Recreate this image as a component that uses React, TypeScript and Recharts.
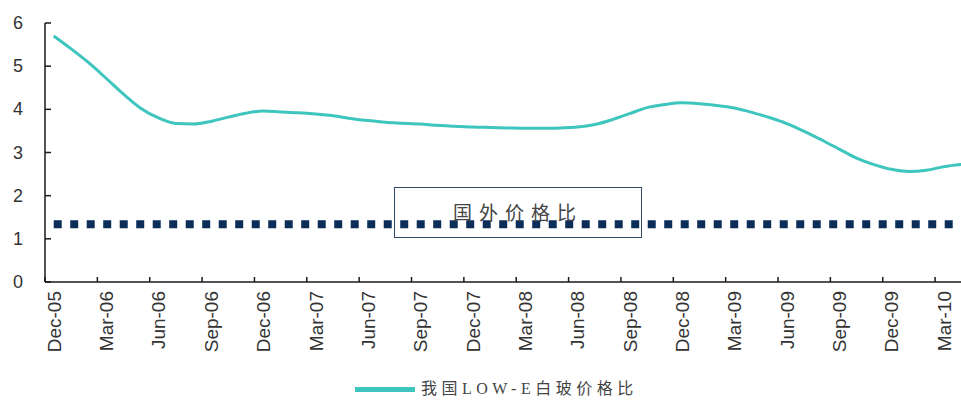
import { Line, LineChart, ReferenceLine, XAxis, YAxis } from "recharts";

const MONTHS = [
  "Dec-05", "Jan-06", "Feb-06", "Mar-06", "Apr-06", "May-06", "Jun-06", "Jul-06", "Aug-06", "Sep-06", "Oct-06", "Nov-06",
  "Dec-06", "Jan-07", "Feb-07", "Mar-07", "Apr-07", "May-07", "Jun-07", "Jul-07", "Aug-07", "Sep-07", "Oct-07", "Nov-07",
  "Dec-07", "Jan-08", "Feb-08", "Mar-08", "Apr-08", "May-08", "Jun-08", "Jul-08", "Aug-08", "Sep-08", "Oct-08", "Nov-08",
  "Dec-08", "Jan-09", "Feb-09", "Mar-09", "Apr-09", "May-09", "Jun-09", "Jul-09", "Aug-09", "Sep-09", "Oct-09", "Nov-09",
  "Dec-09", "Jan-10", "Feb-10", "Mar-10", "Apr-10",
];

const LOWE_RATIO = [
  5.70, 5.40, 5.08, 4.72, 4.35, 4.02, 3.80, 3.67, 3.66, 3.72, 3.82, 3.91,
  3.96, 3.94, 3.92, 3.89, 3.85, 3.79, 3.74, 3.70, 3.68, 3.66, 3.63, 3.61,
  3.59, 3.58, 3.57, 3.56, 3.56, 3.57, 3.59, 3.65, 3.76, 3.90, 4.04, 4.11,
  4.15, 4.13, 4.09, 4.03, 3.93, 3.81, 3.67, 3.49, 3.29, 3.08, 2.87, 2.72,
  2.61, 2.56, 2.59, 2.67, 2.72,
];

const FOREIGN_RATIO = 1.34;
const Y_TICKS = [0, 1, 2, 3, 4, 5, 6];

const SERIES_NAME = "我国LOW-E白玻价格比";
const BOX_LABEL = "国外价格比";

const TEAL = "#3ec5be";
const NAVY = "#0b2d58";
const AXIS = "#1a1a1a";
const TEXT = "#333333";

const STEP = 17.45;

const data = MONTHS.map((m, i) => ({ month: m, lowe: LOWE_RATIO[i] }));

function XTick(props: any) {
  const { x, y, payload, index } = props;
  if (index % 3 !== 0) return null;
  const bx = x - STEP / 2;
  return (
    <g>
      <line x1={bx} x2={bx} y1={y} y2={y - 5} stroke={AXIS} strokeWidth={1.5} />
      <text
        x={x + 7}
        y={y + 9}
        transform={`rotate(-90 ${x + 7} ${y + 9})`}
        textAnchor="end"
        fill={TEXT}
        fontSize={19}
        fontFamily="Liberation Sans, Arial, sans-serif"
      >
        {payload.value}
      </text>
    </g>
  );
}

function YTick(props: any) {
  const { x, y, payload } = props;
  return (
    <g>
      <line x1={x} x2={x + 6} y1={y} y2={y} stroke={AXIS} strokeWidth={1.5} />
      <text
        x={x - 22}
        y={y + 6}
        textAnchor="end"
        fill={TEXT}
        fontSize={18}
        fontFamily="Liberation Sans, Arial, sans-serif"
      >
        {payload.value}
      </text>
    </g>
  );
}

export default function App() {
  return (
    <div
      style={{
        position: "absolute",
        left: 0,
        top: 0,
        width: 961,
        height: 401,
        overflow: "hidden",
        background: "#fff",
      }}
    >
      <LineChart width={970} height={401} data={data} margin={{ top: 23, right: 0, bottom: 0, left: 0 }}>
        <XAxis
          dataKey="month"
          interval={0}
          height={119}
          padding={{ left: STEP / 2, right: STEP / 2 }}
          tickSize={0}
          tickMargin={0}
          tickLine={false}
          axisLine={{ stroke: AXIS, strokeWidth: 1.5 }}
          tick={<XTick />}
        />
        <YAxis
          domain={[0, 6]}
          ticks={Y_TICKS}
          width={45}
          tickSize={0}
          tickMargin={0}
          tickLine={false}
          axisLine={{ stroke: AXIS, strokeWidth: 1.5 }}
          tick={<YTick />}
        />
        <ReferenceLine
          segment={[
            { x: MONTHS[0], y: FOREIGN_RATIO },
            { x: MONTHS[MONTHS.length - 1], y: FOREIGN_RATIO },
          ]}
          stroke={NAVY}
          strokeWidth={8}
          strokeDasharray="8 8.5"
        />
        <Line
          type="monotone"
          dataKey="lowe"
          name={SERIES_NAME}
          stroke={TEAL}
          strokeWidth={3}
          dot={false}
          isAnimationActive={false}
        />
      </LineChart>

      <div
        style={{
          position: "absolute",
          left: 394,
          top: 187,
          width: 248,
          height: 51,
          boxSizing: "border-box",
          border: "1.5px solid #2e4a66",
          display: "flex",
          alignItems: "center",
          justifyContent: "center",
          paddingBottom: 2,
          fontFamily: '"Liberation Serif", "Noto Sans CJK SC", serif',
          fontSize: 19,
          letterSpacing: 7,
          color: "#444",
        }}
      >
        {BOX_LABEL}
      </div>

      <div
        style={{
          position: "absolute",
          left: 355,
          top: 379,
          height: 20,
          display: "flex",
          alignItems: "center",
          fontFamily: '"Liberation Serif", "Noto Sans CJK SC", serif',
          fontSize: 16,
          lineHeight: "20px",
          letterSpacing: 4.5,
          color: "#444",
          whiteSpace: "nowrap",
        }}
      >
        <span style={{ display: "inline-block", width: 60, height: 5, background: TEAL, marginRight: 6 }} />
        {SERIES_NAME}
      </div>
    </div>
  );
}
